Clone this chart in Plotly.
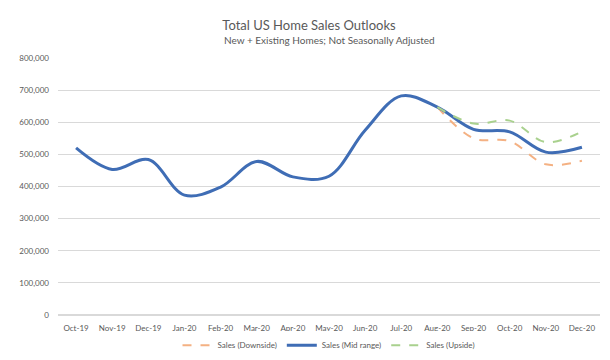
import plotly.graph_objects as go

months = ["Oct-19", "Nov-19", "Dec-19", "Jan-20", "Feb-20", "Mar-20", "Apr-20", "May-20",
          "Jun-20", "Jul-20", "Aug-20", "Sep-20", "Oct-20", "Nov-20", "Dec-20"]
mid = [520000, 453000, 484000, 373000, 398000, 478000, 430000, 432000,
       575000, 682000, 647000, 578000, 570000, 507000, 522000]
downside_months = ["Aug-20", "Sep-20", "Oct-20", "Nov-20", "Dec-20"]
downside = [647000, 550000, 541000, 469000, 480000]
upside_months = ["Aug-20", "Sep-20", "Oct-20", "Nov-20", "Dec-20"]
upside = [647000, 596000, 605000, 538000, 571000]

font = "Lato"
fig = go.Figure()
fig.add_trace(go.Scatter(x=downside_months, y=downside, name="Sales (Downside)", mode="lines",
                         line=dict(color="#F4B183", width=2, dash="dash", shape="spline")))
fig.add_trace(go.Scatter(x=months, y=mid, name="Sales (Mid range)", mode="lines",
                         line=dict(color="#3F6DB5", width=3, shape="spline")))
fig.add_trace(go.Scatter(x=upside_months, y=upside, name="Sales (Upside)", mode="lines",
                         line=dict(color="#A9D18E", width=2, dash="dash", shape="spline")))

fig.update_layout(
    width=602, height=352,
    paper_bgcolor="white", plot_bgcolor="white",
    margin=dict(l=50, r=10, t=50, b=45, autoexpand=False),
    font=dict(family=font, color="#595959", size=8),
    title=dict(text="Total US Home Sales Outlooks",
               x=0.5, xanchor="center", y=0.964, yanchor="top",
               font=dict(family=font, size=13, color="#595959")),
    annotations=[dict(text="New + Existing Homes; Not Seasonally Adjusted",
                      xref="paper", yref="paper", x=0.5, y=1.07, xanchor="center", yanchor="middle",
                      showarrow=False, font=dict(family=font, size=10, color="#595959"))],
    xaxis=dict(type="category", categoryorder="array", categoryarray=months,
               range=[-0.5, 14.5],
               showgrid=False, showline=False, ticks="", tickfont=dict(size=8, color="#595959"),
               ticklabelstandoff=7, fixedrange=True),
    yaxis=dict(range=[0, 800000], dtick=100000, tickformat=",", showgrid=True,
               gridcolor="#D9D9D9", gridwidth=1, zeroline=True, zerolinecolor="#D9D9D9",
               ticks="", tickfont=dict(size=8, color="#595959"), ticklabelstandoff=8),
    legend=dict(orientation="h", x=0.5, xanchor="center", y=0.083, yref="container", yanchor="top",
                font=dict(size=8, color="#595959"), traceorder="normal"),
    showlegend=True,
)
fig.write_html("out.html")
